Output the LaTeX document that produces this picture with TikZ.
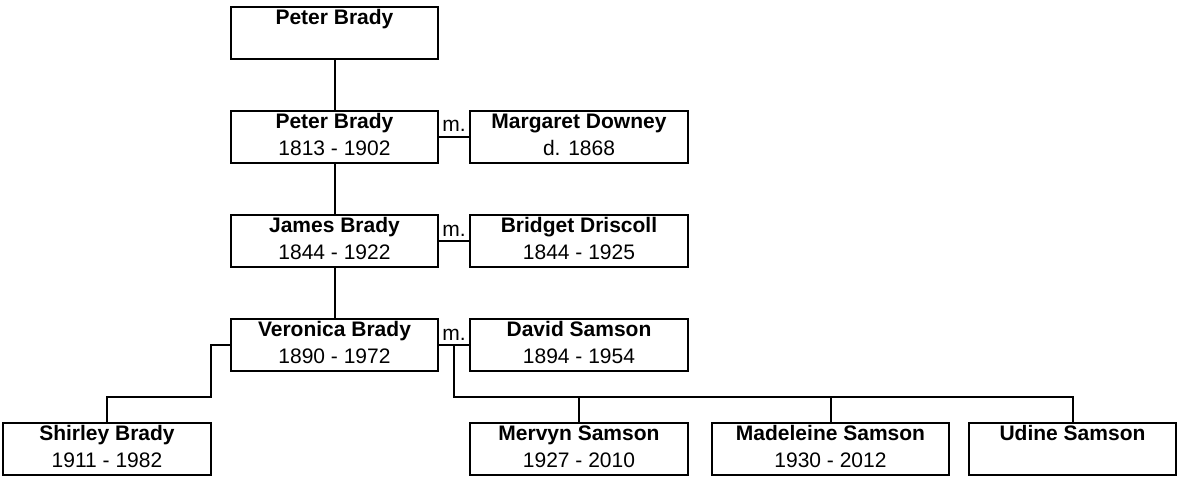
\documentclass[tikz,border=0pt]{standalone}
\usepackage{fontspec}
\setmainfont{Liberation Sans}
\usetikzlibrary{positioning,shadows}
\newcommand{\who}[2]{\textbf{#1}\\#2\vphantom{y}}
\tikzset{person/.style={draw,fill=white,line width=1pt,align=center,inner sep=0pt,outer sep=0pt,minimum height=26pt,minimum width=103.5pt,font=\fontsize{10.5}{13.5}\selectfont,drop shadow={shadow xshift=0.5pt,shadow yshift=-0.5pt,fill=black,opacity=1}},spouse/.style={person,minimum width=109pt}}

\begin{document}
\begin{tikzpicture}[node distance=26pt,
line/.style={line width=1pt},wed/.style={font=\fontsize{10.5}{12}\selectfont,inner sep=2pt}]
\useasboundingbox (0,0) rectangle (589pt,-240.5pt);

\node[person,anchor=north west] (pb1) at (115.5pt,-3.5pt) {\who{Peter Brady}{}};
\node[person,below=of pb1] (pb2) {\who{Peter Brady}{1813 - 1902}};
\node[person,below=of pb2] (jb) {\who{James Brady}{1844 - 1922}};
\node[person,below=of jb] (vb) {\who{Veronica Brady}{1890 - 1972}};
\node[spouse,right=16pt of pb2] (md) {\who{Margaret Downey}{d. 1868}};
\node[spouse,right=16pt of jb] (bd) {\who{Bridget Driscoll}{1844 - 1925}};
\node[spouse,right=16pt of vb] (ds) {\who{David Samson}{1894 - 1954}};
\node[person,minimum width=104pt,below left=26pt and 10pt of vb] (sb) {\who{Shirley Brady}{1911 - 1982}};
\node[spouse,below=of ds] (ms) {\who{Mervyn Samson}{1927 - 2010}};
\node[person,minimum width=118.5pt,right=12pt of ms] (mas) {\who{Madeleine Samson}{1930 - 2012}};
\node[person,right=10pt of mas] (us) {\who{Udine Samson}{}};

\draw[line] (pb1) -- (pb2) (pb2) -- (jb) (jb) -- (vb);
\draw[line] (pb2) -- node[wed,above] (m1) {m.} (md);
\draw[line] (jb) -- node[wed,above] (m2) {m.} (bd);
\draw[line] (vb) -- node[wed,above] (m3) {m.} coordinate[midway] (w3) (ds);

\coordinate[above=13pt of sb.north east] (sj);
\draw[line] (vb.west) -| (sj) -| (sb.north);
\coordinate[above=13pt of ms.north] (kj);
\draw[line] (w3) -- (w3 |- kj) -| (us.north);
\draw[line] (ms.north) -- (ms.north |- kj);
\draw[line] (mas.north) -- (mas.north |- kj);
\end{tikzpicture}
\end{document}
